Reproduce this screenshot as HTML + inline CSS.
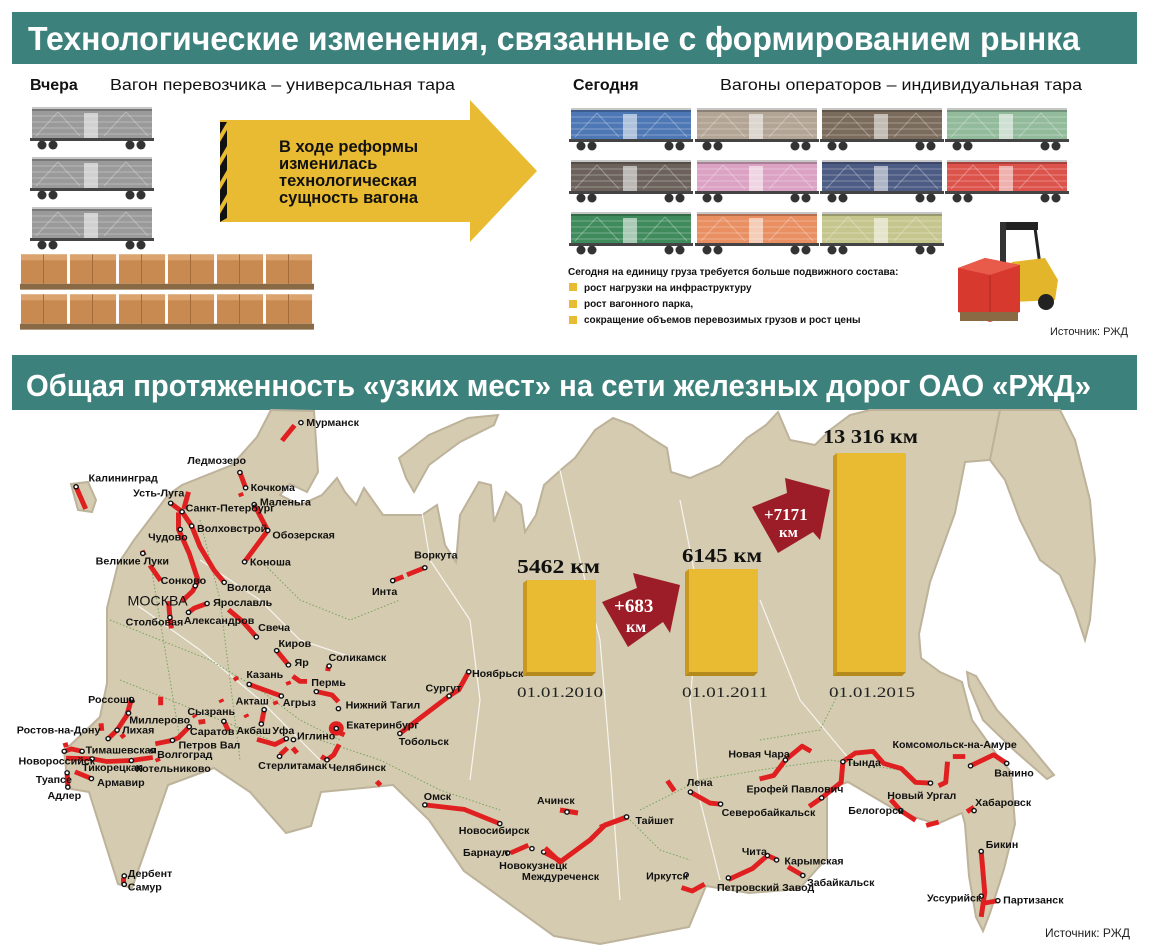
<!DOCTYPE html>
<html><head><meta charset="utf-8"><style>
html,body{margin:0;padding:0;background:#fff;}
svg{display:block;font-family:"Liberation Sans",sans-serif;}
.c{font-size:30px;font-weight:bold;fill:#111;}
</style></head><body>
<svg width="1155" height="948" viewBox="0 0 1155 948" xmlns="http://www.w3.org/2000/svg">
<defs>
<symbol id="w" viewBox="0 0 128 45">
<rect x="4" y="3" width="120" height="30" fill="currentColor"/>
<rect x="4" y="1" width="120" height="4" fill="#000" opacity=".22"/>
<g stroke="#fff" stroke-opacity=".3" stroke-width="1">
<line x1="4" y1="10" x2="124" y2="10"/><line x1="4" y1="16" x2="124" y2="16"/><line x1="4" y1="22" x2="124" y2="22"/><line x1="4" y1="28" x2="124" y2="28"/>
<line x1="8" y1="30" x2="30" y2="6"/><line x1="30" y1="6" x2="52" y2="30"/><line x1="76" y1="30" x2="98" y2="6"/><line x1="98" y1="6" x2="120" y2="30"/></g>
<rect x="56" y="7" width="14" height="25" fill="#fff" opacity=".55"/>
<rect x="2" y="32" width="124" height="3" fill="#444"/>
<g fill="#333"><circle cx="14" cy="39" r="4.5"/><circle cx="25" cy="39" r="4.5"/><circle cx="102" cy="39" r="4.5"/><circle cx="113" cy="39" r="4.5"/></g>
</symbol>
<symbol id="b" viewBox="0 0 50 40">
<rect x="1" y="2" width="47" height="30" fill="#c98a52"/>
<rect x="1" y="2" width="47" height="6" fill="#dba36d"/>
<line x1="24" y1="2" x2="24" y2="32" stroke="#a06a3a"/>
<rect x="0" y="32" width="50" height="6" fill="#8a6a45"/>
</symbol>
</defs>

<rect x="12" y="12" width="1125" height="52" fill="#3d817d"/>
<text x="28" y="50" fill="#fff" font-size="33" font-weight="bold" textLength="1052" lengthAdjust="spacingAndGlyphs">Технологические изменения, связанные с формированием рынка</text>

<text x="30" y="90" font-size="16" font-weight="bold" fill="#111">Вчера</text>
<text x="110" y="90" font-size="16" fill="#111" textLength="345" lengthAdjust="spacingAndGlyphs">Вагон перевозчика – универсальная тара</text>
<text x="573" y="90" font-size="16" font-weight="bold" fill="#111">Сегодня</text>
<text x="720" y="90" font-size="16" fill="#111" textLength="362" lengthAdjust="spacingAndGlyphs">Вагоны операторов – индивидуальная тара</text>

<g style="color:#9a9a9a">
<use href="#w" x="27" y="106" width="130" height="45"/>
<use href="#w" x="27" y="156" width="130" height="45"/>
<use href="#w" x="27" y="206" width="130" height="45"/>
</g>
<g>
<use href="#b" x="20" y="252" width="49" height="40"/><use href="#b" x="69" y="252" width="49" height="40"/><use href="#b" x="118" y="252" width="49" height="40"/><use href="#b" x="167" y="252" width="49" height="40"/><use href="#b" x="216" y="252" width="49" height="40"/><use href="#b" x="265" y="252" width="49" height="40"/>
<use href="#b" x="20" y="292" width="49" height="40"/><use href="#b" x="69" y="292" width="49" height="40"/><use href="#b" x="118" y="292" width="49" height="40"/><use href="#b" x="167" y="292" width="49" height="40"/><use href="#b" x="216" y="292" width="49" height="40"/><use href="#b" x="265" y="292" width="49" height="40"/>
</g>

<polygon points="220,120 470,120 470,100 537,171 470,242 470,222 220,222" fill="#e9bb33"/>
<g fill="#111"><polygon points="220,122 227,122 220,134"/><polygon points="220,142 227,130 227,146 220,158"/><polygon points="220,166 227,154 227,170 220,182"/><polygon points="220,190 227,178 227,194 220,206"/><polygon points="220,214 227,202 227,218 220,222"/></g>
<g font-size="16.5" font-weight="bold" fill="#111">
<text x="279" y="152">В ходе реформы</text>
<text x="279" y="169">изменилась</text>
<text x="279" y="186">технологическая</text>
<text x="279" y="203">сущность вагона</text>
</g>

<use href="#w" x="567" y="107" width="128" height="45" style="color:#4d78b5"/>
<use href="#w" x="693" y="107" width="128" height="45" style="color:#b3a595"/>
<use href="#w" x="818" y="107" width="128" height="45" style="color:#7b6b5c"/>
<use href="#w" x="943" y="107" width="128" height="45" style="color:#92bb9c"/>
<use href="#w" x="567" y="159" width="128" height="45" style="color:#6c625b"/>
<use href="#w" x="693" y="159" width="128" height="45" style="color:#dba2c3"/>
<use href="#w" x="818" y="159" width="128" height="45" style="color:#4d5c84"/>
<use href="#w" x="943" y="159" width="128" height="45" style="color:#dc534b"/>
<use href="#w" x="567" y="211" width="128" height="45" style="color:#408b5c"/>
<use href="#w" x="693" y="211" width="128" height="45" style="color:#e98f62"/>
<use href="#w" x="818" y="211" width="128" height="45" style="color:#c5c58e"/>

<text x="568" y="275" font-size="10" font-weight="bold" fill="#111">Сегодня на единицу груза требуется больше подвижного состава:</text>
<g fill="#e9bb33"><rect x="569" y="283" width="8" height="8"/><rect x="569" y="300" width="8" height="8"/><rect x="569" y="316" width="8" height="8"/></g>
<g font-size="10" font-weight="bold" fill="#111">
<text x="584" y="291">рост нагрузки на инфраструктуру</text>
<text x="584" y="307">рост вагонного парка,</text>
<text x="584" y="323">сокращение объемов перевозимых грузов и рост цены</text>
</g>
<!-- forklift -->
<rect x="1003" y="222" width="35" height="8" fill="#222"/>
<rect x="1000" y="222" width="6" height="70" fill="#333"/>
<line x1="1035" y1="228" x2="1040" y2="265" stroke="#222" stroke-width="3"/>
<polygon points="1012,262 1045,258 1058,280 1055,300 1012,302" fill="#e3b52a"/>
<circle cx="1046" cy="302" r="8" fill="#222"/>
<polygon points="958,268 985,258 1020,265 1020,312 990,322 958,312" fill="#d8392e"/>
<polygon points="958,268 985,258 1020,265 990,275" fill="#e85a4a"/>
<line x1="990" y1="275" x2="990" y2="320" stroke="#a82a22"/>
<rect x="960" y="312" width="58" height="9" fill="#8a6a45"/>
<text x="1050" y="335" font-size="11" fill="#222">Источник: РЖД</text>

<rect x="12" y="355" width="1125" height="55" fill="#3d817d"/>
<text x="26" y="396" fill="#fff" font-size="31" font-weight="bold" textLength="1065" lengthAdjust="spacingAndGlyphs">Общая протяженность «узких мест» на сети железных дорог ОАО «РЖД»</text>

<!-- map -->
<g fill="#d5cbb0" stroke="#bdb29a" stroke-width="2">
<polygon points="64,751 100,717 107,683 107,608 118,564 134,540 168,495 182,485 232,465 257,437 271,410 314,411 318,472 307,492 290,484 280,495 300,505 322,495 337,478 345,492 356,505 364,488 383,515 422,515 437,505 445,545 456,562 460,515 479,482 491,485 494,522 506,492 521,505 525,532 536,515 544,485 563,468 575,458 595,430 613,418 632,425 651,438 667,448 671,472 690,478 720,465 747,438 766,425 778,412 790,440 815,445 830,430 850,415 870,410 1000,410 990,460 965,462 955,513 930,582 919,634 921,658 940,672 962,682 972,720 997,755 1011,772 1015,824 1004,869 990,913 983,931 976,917 969,876 965,824 962,813 937,824 901,813 848,782 827,789 827,858 799,889 749,893 706,886 689,927 600,944 554,936 464,871 429,820 393,785 321,792 311,826 286,833 250,792 214,768 168,785 150,837 132,888 118,884 89,792 71,789 68,785"/>
<polygon points="1000,410 1060,410 1075,440 1090,500 1095,560 1090,620 1085,640 1075,610 1060,575 1040,560 1020,520 1005,480 990,460"/>
<polygon points="967,672 976,676 997,710 1026,741 1054,775 1047,779 1015,751 983,720 969,686"/>
<polygon points="399,458 429,435 468,418 498,415 494,425 460,442 429,465 414,492 406,478"/>
<polygon points="71,484 88,482 96,500 92,512 78,510"/>
</g>
<g fill="none" stroke="#fff" stroke-width="1.2" opacity=".8">
<polyline points="420,500 430,560 470,620 480,700 470,780"/>
<polyline points="560,470 580,560 600,640 610,760 620,900"/>
<polyline points="680,500 700,600 690,700 700,800 720,880"/>
<polyline points="760,600 800,700 850,760"/>
<polyline points="130,600 200,650 260,700 320,760"/>
<polyline points="200,560 260,600 300,640 360,660"/>
</g>
<g fill="none" stroke="#5f9a4a" stroke-width="1" stroke-dasharray="1.5,2" opacity=".8">
<polyline points="110,620 160,640 210,660 260,690 300,720 340,740"/>
<polyline points="120,680 170,700 220,720 270,740"/>
<polyline points="150,560 160,620 170,680 180,740"/>
<polyline points="200,520 220,600 230,680 240,760"/>
<polyline points="260,560 300,600 350,620 400,600"/>
<polyline points="320,740 380,760 440,790 500,810"/>
<polyline points="640,810 700,780 760,770 830,760 900,770"/>
<polyline points="630,820 660,850 690,860"/>
<polyline points="760,740 820,730 840,690"/>
</g>

<g transform="translate(0,410) scale(0.357,0.3413)">
<g fill="none" stroke="#e02020" stroke-width="14" stroke-linecap="butt" stroke-linejoin="round">
<polyline points="825,45 790,90"/>
<polyline points="213,225 240,290"/>
<polyline points="672,183 688,228"/><polyline points="673,243 677,253"/>
<polyline points="478,273 510,298 537,340"/><polyline points="515,290 528,240"/>
<polyline points="500,300 500,350 530,420 555,500 540,530 510,560"/>
<polyline points="537,340 560,400 600,470 628,505"/>
<polyline points="712,277 750,353 685,445"/>
<polyline points="398,412 404,426"/><polyline points="420,455 450,500"/>
<polyline points="472,560 476,608 480,640"/>
<polyline points="528,593 545,580 580,567"/>
<polyline points="640,585 680,620 718,665"/>
<polyline points="775,705 808,747"/>
<polyline points="820,780 840,795 860,795"/><polyline points="806,795 810,805"/>
<polyline points="698,804 788,838"/><polyline points="658,782 664,792"/>
<polyline points="886,825 930,835 948,855"/>
<polyline points="920,750 918,765"/>
<polyline points="740,878 732,920"/><polyline points="770,853 774,863"/>
<circle cx="942" cy="933" r="14"/><polyline points="950,945 965,952"/>
<polyline points="950,980 935,1010 916,1025 900,1015"/>
<polyline points="720,965 770,980 802,963"/><polyline points="785,1010 805,990"/><polyline points="820,990 832,1005"/>
<polyline points="627,912 640,940"/><polyline points="556,915 575,912"/><polyline points="543,893 548,900"/><polyline points="618,848 622,856"/><polyline points="688,892 692,900"/>
<polyline points="530,928 500,960 483,968 435,978"/>
<polyline points="368,848 355,895 328,938 303,963"/><polyline points="450,840 450,865"/><polyline points="283,918 285,940"/><polyline points="340,950 348,960"/>
<polyline points="182,975 186,988"/><polyline points="180,1000 200,993 230,1000"/>
<polyline points="185,1020 258,1022 300,1030 368,1027 428,1018"/>
<polyline points="210,1060 256,1080"/><polyline points="188,1063 190,1105"/>
<polyline points="440,1020 444,1030"/>
<polyline points="1055,1088 1066,1100"/>
<polyline points="1100,500 1130,488"/><polyline points="1140,483 1190,462"/>
<polyline points="1120,948 1258,838 1285,820 1313,767"/>
<polyline points="1190,1157 1300,1170 1400,1212"/>
<polyline points="1430,1298 1480,1275"/><polyline points="1523,1295 1568,1320"/>
<polyline points="346,1370 346,1390"/>
</g>
<g fill="#fff" stroke="#111" stroke-width="4">
<circle cx="843" cy="37" r="6"/><circle cx="672" cy="183" r="6"/><circle cx="213" cy="225" r="6"/><circle cx="688" cy="228" r="6"/><circle cx="478" cy="273" r="6"/><circle cx="712" cy="277" r="6"/><circle cx="510" cy="298" r="6"/><circle cx="537" cy="340" r="6"/><circle cx="750" cy="353" r="6"/><circle cx="505" cy="350" r="6"/><circle cx="400" cy="420" r="6"/><circle cx="685" cy="445" r="6"/><circle cx="1190" cy="462" r="6"/><circle cx="1100" cy="500" r="6"/><circle cx="547" cy="515" r="6"/><circle cx="628" cy="505" r="6"/><circle cx="580" cy="567" r="6"/><circle cx="476" cy="608" r="6"/><circle cx="528" cy="593" r="6"/><circle cx="718" cy="665" r="6"/><circle cx="775" cy="705" r="6"/><circle cx="808" cy="747" r="6"/><circle cx="922" cy="750" r="6"/><circle cx="698" cy="804" r="6"/><circle cx="886" cy="825" r="6"/><circle cx="1313" cy="767" r="6"/><circle cx="1258" cy="838" r="6"/><circle cx="368" cy="848" r="6"/><circle cx="740" cy="878" r="6"/><circle cx="788" cy="838" r="6"/><circle cx="948" cy="875" r="6"/><circle cx="360" cy="888" r="6"/><circle cx="627" cy="912" r="6"/><circle cx="942" cy="933" r="6"/><circle cx="303" cy="963" r="6"/><circle cx="328" cy="938" r="6"/><circle cx="530" cy="928" r="6"/><circle cx="732" cy="920" r="6"/><circle cx="802" cy="963" r="6"/><circle cx="822" cy="966" r="6"/><circle cx="1120" cy="948" r="6"/><circle cx="230" cy="1000" r="6"/><circle cx="483" cy="968" r="6"/><circle cx="428" cy="998" r="6"/><circle cx="180" cy="1000" r="6"/><circle cx="258" cy="1022" r="6"/><circle cx="368" cy="1027" r="6"/><circle cx="783" cy="1015" r="6"/><circle cx="916" cy="1025" r="6"/><circle cx="188" cy="1063" r="6"/><circle cx="256" cy="1080" r="6"/><circle cx="190" cy="1105" r="6"/><circle cx="1190" cy="1157" r="6"/><circle cx="1400" cy="1212" r="6"/><circle cx="1422" cy="1298" r="6"/><circle cx="1490" cy="1285" r="6"/><circle cx="1523" cy="1295" r="6"/><circle cx="348" cy="1365" r="6"/><circle cx="348" cy="1390" r="6"/>
</g>
<g class="c">
<text x="858" y="47">Мурманск</text>
<text x="525" y="158">Ледмозеро</text>
<text x="248" y="210">Калининград</text>
<text x="702" y="238">Кочкома</text>
<text x="373" y="253">Усть-Луга</text>
<text x="728" y="280">Маленьга</text>
<text x="520" y="298">Санкт-Петербург</text>
<text x="552" y="358">Волховстрой</text>
<text x="763" y="376">Обозерская</text>
<text x="415" y="382">Чудово</text>
<text x="268" y="452">Великие Луки</text>
<text x="700" y="455">Коноша</text>
<text x="1160" y="435">Воркута</text>
<text x="1042" y="542">Инта</text>
<text x="450" y="510">Сонково</text>
<text x="636" y="531">Вологда</text>
<text x="357" y="573" style="font-size:40px;font-weight:normal">МОСКВА</text>
<text x="597" y="575">Ярославль</text>
<text x="352" y="632">Столбовая</text>
<text x="515" y="627">Александров</text>
<text x="723" y="647">Свеча</text>
<text x="780" y="695">Киров</text>
<text x="825" y="750">Яр</text>
<text x="920" y="735">Соликамск</text>
<text x="690" y="785">Казань</text>
<text x="872" y="808">Пермь</text>
<text x="1322" y="782">Ноябрьск</text>
<text x="1192" y="825">Сургут</text>
<text x="247" y="858">Россошь</text>
<text x="660" y="863">Акташ</text>
<text x="792" y="867">Агрыз</text>
<text x="968" y="875">Нижний Тагил</text>
<text x="362" y="918">Миллерово</text>
<text x="525" y="893">Сызрань</text>
<text x="970" y="933">Екатеринбург</text>
<text x="47" y="948">Ростов-на-Дону</text>
<text x="342" y="948">Лихая</text>
<text x="532" y="953">Саратов</text>
<text x="662" y="950">Акбаш</text>
<text x="763" y="950">Уфа</text>
<text x="832" y="965">Иглино</text>
<text x="1117" y="982">Тобольск</text>
<text x="240" y="1007">Тимашевская</text>
<text x="500" y="992">Петров Вал</text>
<text x="440" y="1020">Волгоград</text>
<text x="52" y="1038">Новороссийск</text>
<text x="230" y="1058">Тикорецкая</text>
<text x="380" y="1060">Котельниково</text>
<text x="723" y="1052">Стерлитамак</text>
<text x="920" y="1058">Челябинск</text>
<text x="100" y="1093">Туапсе</text>
<text x="272" y="1102">Армавир</text>
<text x="133" y="1140">Адлер</text>
<text x="1187" y="1143">Омск</text>
<text x="1285" y="1242">Новосибирск</text>
<text x="1297" y="1307">Барнаул</text>
<text x="1398" y="1345">Новокузнецк</text>
<text x="1462" y="1377">Междуреченск</text>
<text x="358" y="1368">Дербент</text>
<text x="358" y="1408">Самур</text>
</g>
</g>

<g fill="none" stroke="#e02020" stroke-width="5" stroke-linejoin="round">
<polyline points="545,848 560,862 590,840 605,825 628,817"/>
<polyline points="560,810 578,813"/>
</g>
<g fill="#fff" stroke="#111" stroke-width="1.4"><circle cx="567" cy="812" r="2.2"/></g>
<text x="537" y="804" font-size="10.5" font-weight="bold" fill="#111">Ачинск</text>

<g transform="translate(600,410) scale(0.3546,0.3448)">
<g fill="none" stroke="#e02020" stroke-width="14" stroke-linejoin="round">
<polyline points="0,1210 75,1180"/>
<polyline points="190,1075 210,1105"/><polyline points="255,1108 310,1140 340,1143"/>
<polyline points="450,1070 490,1060 523,1015 570,975 595,990"/>
<polyline points="590,1150 625,1125 680,1080 685,1020 720,995 770,990 800,1025 850,1040 890,1080 932,1082"/>
<polyline points="955,1090 975,1080 980,1020"/>
<polyline points="995,1005 1030,1005"/><polyline points="1045,1032 1110,1000 1147,1025"/>
<polyline points="820,1130 848,1162 890,1190"/><polyline points="920,1205 955,1195"/>
<polyline points="1035,1165 1055,1152"/>
<polyline points="1075,1280 1085,1400 1075,1470"/><polyline points="1085,1430 1122,1423"/>
<polyline points="230,1385 260,1395 295,1375"/>
<polyline points="362,1362 430,1330 472,1292 500,1305"/><polyline points="530,1325 572,1350"/>
</g>
<g fill="#fff" stroke="#111" stroke-width="4">
<circle cx="75" cy="1180" r="6"/><circle cx="255" cy="1108" r="6"/><circle cx="340" cy="1143" r="6"/><circle cx="523" cy="1015" r="6"/><circle cx="625" cy="1125" r="6"/><circle cx="685" cy="1020" r="6"/><circle cx="1045" cy="1032" r="6"/><circle cx="1147" cy="1025" r="6"/><circle cx="932" cy="1082" r="6"/><circle cx="848" cy="1162" r="6"/><circle cx="1055" cy="1162" r="6"/><circle cx="1075" cy="1280" r="6"/><circle cx="1075" cy="1410" r="6"/><circle cx="1122" cy="1423" r="6"/><circle cx="472" cy="1292" r="6"/><circle cx="498" cy="1305" r="6"/><circle cx="572" cy="1350" r="6"/><circle cx="243" cy="1348" r="6"/><circle cx="362" cy="1357" r="6"/>
</g>
<g class="c">
<text x="100" y="1200">Тайшет</text>
<text x="245" y="1090">Лена</text>
<text x="343" y="1178">Северобайкальск</text>
<text x="362" y="1008">Новая Чара</text>
<text x="413" y="1110">Ерофей Павлович</text>
<text x="695" y="1032">Тында</text>
<text x="825" y="980">Комсомольск-на-Амуре</text>
<text x="1112" y="1063">Ванино</text>
<text x="810" y="1128">Новый Ургал</text>
<text x="700" y="1172">Белогорск</text>
<text x="1058" y="1148">Хабаровск</text>
<text x="1088" y="1270">Бикин</text>
<text x="922" y="1425">Уссурийск</text>
<text x="1137" y="1432">Партизанск</text>
<text x="400" y="1290">Чита</text>
<text x="520" y="1318">Карымская</text>
<text x="584" y="1380">Забайкальск</text>
<text x="130" y="1362">Иркутск</text>
<text x="330" y="1395">Петровский Завод</text>
</g>
</g>
<text x="1045" y="937" font-size="12" fill="#222">Источник: РЖД</text>

<g>
<polygon points="523,583 527,580 527,672 523,676" fill="#c9991f"/>
<rect x="527" y="580" width="69" height="92" fill="#e9bb33"/>
<polygon points="523,676 527,672 596,672 592,676" fill="#b58a1c"/>
<polygon points="685,572 689,569 689,672 685,676" fill="#c9991f"/>
<rect x="689" y="569" width="69" height="103" fill="#e9bb33"/>
<polygon points="685,676 689,672 758,672 754,676" fill="#b58a1c"/>
<polygon points="833,456 837,453 837,672 833,676" fill="#c9991f"/>
<rect x="837" y="453" width="69" height="219" fill="#e9bb33"/>
<polygon points="833,676 837,672 906,672 902,676" fill="#b58a1c"/>
</g>
<g font-family="Liberation Serif, serif" font-weight="bold" fill="#111">
<text x="517" y="573" font-size="20" textLength="83" lengthAdjust="spacingAndGlyphs">5462 км</text>
<text x="682" y="562" font-size="20" textLength="80" lengthAdjust="spacingAndGlyphs">6145 км</text>
<text x="823" y="443" font-size="20" textLength="95" lengthAdjust="spacingAndGlyphs">13 316 км</text>
</g>
<g font-family="Liberation Serif, serif" fill="#222" font-size="15">
<text x="517" y="697" textLength="86" lengthAdjust="spacingAndGlyphs">01.01.2010</text>
<text x="682" y="697" textLength="86" lengthAdjust="spacingAndGlyphs">01.01.2011</text>
<text x="829" y="697" textLength="86" lengthAdjust="spacingAndGlyphs">01.01.2015</text>
</g>
<polygon points="602,602 637,588 633,573 680,585 670,633 663,622 628,647" fill="#9c1c28"/>
<polygon points="752,507 787,493 785,478 830,490 820,540 813,532 778,553" fill="#9c1c28"/>
<g fill="#fff" font-family="Liberation Serif, serif" font-weight="bold">
<text x="614" y="612" font-size="19">+683</text>
<text x="626" y="632" font-size="16">км</text>
<text x="764" y="520" font-size="17">+7171</text>
<text x="779" y="537" font-size="15">км</text>
</g>
</svg>
</body></html>
